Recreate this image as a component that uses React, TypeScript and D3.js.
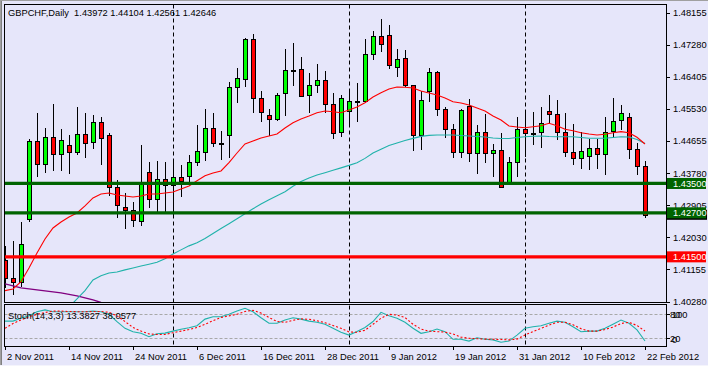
import React from 'react';
import * as d3 from 'd3';

// GBPCHF daily bars, 2 Nov 2011 .. 22 Feb 2012
const opens = [
  1.41415, 1.40924, 1.40815, 1.42532, 1.44658, 1.44031, 1.44767, 1.44304, 1.44549, 1.44358,
  1.44849, 1.44631, 1.45176, 1.44822, 1.43404, 1.42859, 1.42777, 1.42478, 1.43813, 1.43077,
  1.43622, 1.43459, 1.43677, 1.43704, 1.44086, 1.44358, 1.45012, 1.44603, 1.44822, 1.46130,
  1.46348, 1.47438, 1.45830, 1.45367, 1.45258, 1.45966, 1.46593, 1.46620, 1.45912, 1.46184,
  1.46321, 1.45667, 1.44903, 1.45476, 1.45748, 1.45748, 1.47029, 1.47520, 1.47547, 1.46675,
  1.46920, 1.46184, 1.44822, 1.46021, 1.46539, 1.45530, 1.44985, 1.44358, 1.45612, 1.44331,
  1.44903, 1.44331, 1.44413, 1.43541, 1.44086, 1.44985, 1.44876, 1.44903, 1.45476, 1.45394,
  1.44903, 1.44358, 1.44195, 1.44249, 1.44467, 1.44304, 1.44930, 1.45230, 1.45312, 1.44440,
  1.43972,
];
const highs = [
  1.41796, 1.41933, 1.42450, 1.44713, 1.45421, 1.45012, 1.45667, 1.44985, 1.44822, 1.45585,
  1.45421, 1.45367, 1.45312, 1.44876, 1.43595, 1.43241, 1.42996, 1.44549, 1.44086, 1.44113,
  1.44086, 1.44113, 1.44004, 1.44277, 1.45094, 1.45530, 1.45421, 1.44930, 1.46266, 1.46648,
  1.47465, 1.47574, 1.46021, 1.45530, 1.45966, 1.47166, 1.47329, 1.46948, 1.46511, 1.46757,
  1.46566, 1.45966, 1.45912, 1.46075, 1.46239, 1.47438, 1.47656, 1.47983, 1.47820, 1.47166,
  1.47138, 1.46190, 1.46021, 1.46648, 1.46566, 1.45585, 1.45121, 1.45530, 1.45803, 1.45094,
  1.45394, 1.44576, 1.44876, 1.44222, 1.45312, 1.45448, 1.45448, 1.45585, 1.45912, 1.45776,
  1.45421, 1.45121, 1.44903, 1.44713, 1.44713, 1.45312, 1.45830, 1.45639, 1.45421, 1.44603,
  1.44104,
];
const lows = [
  1.40652, 1.40461, 1.40679, 1.42450, 1.43677, 1.43786, 1.43840, 1.43840, 1.43759, 1.44277,
  1.44195, 1.44440, 1.44004, 1.43159, 1.42559, 1.42260, 1.42314, 1.42341, 1.42832, 1.42696,
  1.42696, 1.42587, 1.43132, 1.43541, 1.43977, 1.44113, 1.44495, 1.44140, 1.44195, 1.45694,
  1.46130, 1.45421, 1.45176, 1.44794, 1.45203, 1.45339, 1.46157, 1.45857, 1.45421, 1.45966,
  1.45421, 1.44713, 1.44767, 1.45040, 1.45176, 1.45694, 1.46866, 1.47084, 1.46620, 1.46402,
  1.46130, 1.44386, 1.44413, 1.45721, 1.45339, 1.44740, 1.44195, 1.44195, 1.44086, 1.43759,
  1.44058, 1.43677, 1.43377, 1.43486, 1.43677, 1.44222, 1.44549, 1.44467, 1.45149, 1.44685,
  1.44222, 1.44004, 1.43895, 1.43868, 1.43895, 1.43731, 1.44740, 1.44957, 1.44168, 1.43731,
  1.42561,
];
const closes = [
  1.40924, 1.40815, 1.41851, 1.44658, 1.44031, 1.44767, 1.44304, 1.44685, 1.44358, 1.44849,
  1.44603, 1.45176, 1.44740, 1.43404, 1.42914, 1.42777, 1.42505, 1.43513, 1.43077, 1.43622,
  1.43459, 1.43677, 1.43568, 1.44086, 1.44386, 1.45012, 1.44603, 1.44600, 1.46130, 1.46375,
  1.47438, 1.45830, 1.45448, 1.45258, 1.45912, 1.46593, 1.46590, 1.45885, 1.46184, 1.46321,
  1.45667, 1.44876, 1.45830, 1.45748, 1.45745, 1.47029, 1.47520, 1.47302, 1.46729, 1.46893,
  1.46184, 1.44822, 1.45776, 1.46539, 1.45530, 1.44985, 1.44358, 1.45503, 1.44331, 1.44903,
  1.44331, 1.44413, 1.43404, 1.44086, 1.44985, 1.44876, 1.44873, 1.45149, 1.45394, 1.44903,
  1.44358, 1.44195, 1.44386, 1.44467, 1.44304, 1.44903, 1.45203, 1.45421, 1.44440, 1.43977,
  1.42646,
];

// moving averages (red = fast, teal = slow, purple = long, only its tail is visible)
const maFast = [
  1.40578, 1.40624, 1.40823, 1.41197, 1.41606, 1.41987, 1.42287, 1.42450, 1.42587, 1.42696,
  1.42887, 1.43105, 1.43214, 1.43241, 1.43186, 1.43159, 1.43132, 1.43159, 1.43214, 1.43214,
  1.43241, 1.43268, 1.43350, 1.43432, 1.43576, 1.43712, 1.43786, 1.43840, 1.44067, 1.44331,
  1.44576, 1.44658, 1.44740, 1.44794, 1.44849, 1.45012, 1.45157, 1.45258, 1.45339, 1.45429,
  1.45476, 1.45457, 1.45429, 1.45503, 1.45585, 1.45702, 1.45857, 1.45975, 1.46075, 1.46130,
  1.46122, 1.46103, 1.46021, 1.45966, 1.45912, 1.45830, 1.45729, 1.45694, 1.45639, 1.45558,
  1.45476, 1.45339, 1.45230, 1.45067, 1.45040, 1.45021, 1.45048, 1.45075, 1.45140, 1.45075,
  1.44977, 1.44939, 1.44884, 1.44849, 1.44822, 1.44841, 1.44884, 1.44912, 1.44884, 1.44759,
  1.44576,
];
const maSlow = [
  null, null, null, null, null, null, null, null, 1.40134, 1.40352,
  1.40578, 1.40870, 1.40987, 1.41058, 1.41088, 1.41145, 1.41197, 1.41248, 1.41300, 1.41355,
  1.41450, 1.41578, 1.41690, 1.41799, 1.41884, 1.41998, 1.42134, 1.42271, 1.42404, 1.42540,
  1.42677, 1.42810, 1.42938, 1.43058, 1.43167, 1.43276, 1.43423, 1.43552, 1.43650, 1.43729,
  1.43794, 1.43860, 1.43925, 1.43993, 1.44067, 1.44184, 1.44331, 1.44435, 1.44535, 1.44606,
  1.44672, 1.44729, 1.44783, 1.44811, 1.44822, 1.44822, 1.44822, 1.44808, 1.44794, 1.44781,
  1.44767, 1.44740, 1.44726, 1.44726, 1.44753, 1.44775, 1.44789, 1.44794, 1.44781, 1.44775,
  1.44775, 1.44775, 1.44753, 1.44732, 1.44732, 1.44732, 1.44753, 1.44775, 1.44767, 1.44699,
  1.44590,
];
const maLong = [
  1.40761, 1.40706, 1.40652, 1.40624, 1.40597, 1.40570, 1.40543, 1.40515, 1.40474, 1.40434,
  1.40379, 1.40325, 1.40256,
];

// Stoch(14,3,3)
const stochK = [
  63, 63, 70, 76.5, 86.5, 91, 86.5, 86.5, 86.5, 86.5,
  86.5, 88, 86.5, 80, 61.5, 45, 36.5, 32.5, 24, 31.5,
  33, 38, 42.5, 46.5, 51.5, 68, 74, 74, 80, 88,
  95, 86.5, 71.5, 57.5, 57.5, 66, 71.5, 68, 63, 60,
  55, 45, 35, 28, 37, 47, 62, 85, 76.5, 70,
  60, 45, 32.5, 36.5, 43, 36.5, 17.5, 17.5, 13, 21.5,
  17.5, 16, 10, 13, 28, 45, 49, 51.5, 57.5, 63,
  60, 49, 36.5, 38, 38, 45, 55, 65.5, 57.5, 41,
  13.38,
];
const stochD = [
  45, 57, 66, 74, 80, 84.5, 88, 88, 87, 86.5,
  86.5, 87, 87, 85, 76, 62, 47, 38, 31, 29.5,
  29.5, 34, 38, 42, 47, 55, 64, 72, 76, 80,
  87, 90, 83, 72, 62, 60, 65, 68.5, 67.5, 64,
  59, 52, 45, 36, 35, 40, 55, 70, 80, 78,
  72, 55, 43, 38, 36.5, 35.5, 31, 23, 20, 19,
  18, 17.5, 17, 16, 18, 28, 37, 45, 53, 60,
  60, 54, 44, 38, 38, 42, 48, 57, 60, 52,
  38.06,
];
const stochLevels = [80, 20];

const priceTicks = [1.48155, 1.4728, 1.46405, 1.4553, 1.44655, 1.4378, 1.42905, 1.4203, 1.41155, 1.4028];
const dateLabels = [
  '2 Nov 2011', '14 Nov 2011', '24 Nov 2011', '6 Dec 2011', '16 Dec 2011', '28 Dec 2011',
  '9 Jan 2012', '19 Jan 2012', '31 Jan 2012', '10 Feb 2012', '22 Feb 2012',
];
const dateLabelBars = [0, 8, 16, 24, 32, 40, 48, 56, 64, 72, 80];
const monthStartBars = [21, 43, 65];

// horizontal support / resistance levels
const levelPrices = [1.435, 1.427, 1.415];
// short resistance marks drawn on the highs
const resistFrom = [42.25, 50, 64.4, 72.6];
const resistTo = [53.4, 56.75, 71, 79.4];
const resistPrice = [1.47738, 1.46558, 1.45934, 1.45549];

const W = 708;
const H = 367;
const FONT = "'Liberation Sans', Arial, sans-serif";

export default function App() {
  const x = d3.scaleLinear().domain([0, 80]).range([5, 645]);
  const y = d3.scaleLinear().domain([1.4028, 1.48155]).range([301.6, 12.7]);
  const ys = d3.scaleLinear().domain([0, 100]).range([346.3, 306.3]);

  const left = 4.5, right = 666.5, mainTop = 4.5, mainBottom = 302.5;
  const stTop = 304.5, stBottom = 346.5;

  const maLine = d3
    .line<number | null>()
    .defined((v) => v != null)
    .x((_, i) => x(i))
    .y((v) => y(v as number));
  const stLine = d3
    .line<number>()
    .x((_, i) => x(i))
    .y((v) => ys(v));

  const fmt = d3.format('.5f');
  const levelColors = ['#006400', '#006400', '#ff0000'];
  const last = closes.length - 1;

  return (
    <svg width={W} height={H} style={{ position: 'absolute', left: 0, top: 0, display: 'block' }} fontFamily={FONT}>
      <defs>
        <clipPath id="mainClip">
          <rect x={left + 0.5} y={mainTop + 0.5} width={right - left - 1} height={mainBottom - mainTop - 1} />
        </clipPath>
        <clipPath id="stClip">
          <rect x={left + 0.5} y={stTop + 0.5} width={right - left - 1} height={stBottom - stTop - 1} />
        </clipPath>
        <filter id="shadow" x="-20%" y="-300%" width="140%" height="800%">
          <feDropShadow dx="5" dy="5" stdDeviation="1.6" floodColor="#8a8a98" floodOpacity="0.85" />
        </filter>
      </defs>

      <rect width={W} height={H} fill="#e6e6fa" />
      <line x1={0} x2={W} y1={0.5} y2={0.5} stroke="#a0a0a0" />
      <line x1={0.5} x2={0.5} y1={0} y2={H} stroke="#a0a0a0" />
      <line x1={1.5} x2={1.5} y1={1} y2={H} stroke="#808080" />
      <line x1={0} x2={W} y1={365.5} y2={365.5} stroke="#f4f4fc" />
      <line x1={0} x2={W} y1={366.5} y2={366.5} stroke="#ffffff" />

      {/* month separators */}
      {monthStartBars.map((b) => (
        <line key={b} x1={Math.round(x(b)) + 0.5} x2={Math.round(x(b)) + 0.5} y1={mainTop} y2={stBottom}
          stroke="#000" strokeDasharray="4,3" />
      ))}

      <g clipPath="url(#mainClip)">
        {/* candles */}
        <g shapeRendering="crispEdges">
          {d3.range(opens.length).map((i) => {
            const o = opens[i];
            const c = closes[i];
            const cx = Math.round(x(i)) + 0.5;
            const top = Math.round(y(Math.max(o, c)));
            const bot = Math.round(y(Math.min(o, c)));
            return (
              <g key={i}>
                <line x1={cx} x2={cx} y1={y(highs[i])} y2={y(lows[i])} stroke="#000" />
                <rect x={cx - 2} y={top + 0.5} width={4} height={Math.max(bot - top, 1)}
                  fill={c > o ? '#00ff00' : '#ff0000'} stroke="#000" />
              </g>
            );
          })}
        </g>

        <path d={maLine(maLong) ?? ''} fill="none" stroke="#800080" strokeWidth={1.3} />
        <path d={maLine(maSlow) ?? ''} fill="none" stroke="#20b2aa" strokeWidth={1.1} />
        <path d={maLine(maFast) ?? ''} fill="none" stroke="#ff0000" strokeWidth={1.1} />

        {levelPrices.map((p, k) => (
          <line key={p} x1={left} x2={right} y1={y(p)} y2={y(p)} stroke={levelColors[k]} strokeWidth={3.2} />
        ))}

        {resistPrice.map((p, k) => (
          <line key={p} x1={x(resistFrom[k])} x2={x(resistTo[k])} y1={y(p)} y2={y(p)}
            stroke="#b40000" strokeWidth={3} filter="url(#shadow)" />
        ))}
      </g>

      {/* stochastic */}
      <g clipPath="url(#stClip)">
        {stochLevels.map((v) => (
          <line key={v} x1={left} x2={right} y1={Math.round(ys(v)) + 0.5} y2={Math.round(ys(v)) + 0.5}
            stroke="#a8a8a8" strokeDasharray="3,2" />
        ))}
        <path d={stLine(stochK) ?? ''} fill="none" stroke="#20b2aa" strokeWidth={1.1} />
        <path d={stLine(stochD) ?? ''} fill="none" stroke="#ff0000" strokeWidth={1.1} strokeDasharray="2,2" />
      </g>

      {/* frames */}
      <rect x={left} y={mainTop} width={right - left} height={mainBottom - mainTop} fill="none" stroke="#000" />
      <rect x={left} y={stTop} width={right - left} height={stBottom - stTop} fill="none" stroke="#000" />

      {/* price axis */}
      {priceTicks.map((p) => (
        <g key={p}>
          <line x1={right} x2={670} y1={Math.round(y(p)) + 0.5} y2={Math.round(y(p)) + 0.5} stroke="#000" />
          <text x={673} y={y(p) + 3.3} fontSize={9.3} fill="#000">{fmt(p)}</text>
        </g>
      ))}

      {/* current price tag (mostly hidden behind the 1.42700 tag) */}
      <rect x={667} y={y(closes[last]) - 5} width={40} height={10} fill="#000" />

      {levelPrices.map((p, k) => (
        <g key={p}>
          <rect x={667} y={y(p) - 5.5} width={39} height={11} fill={levelColors[k]} />
          <text x={673} y={y(p) + 3.3} fontSize={9.3} fill="#fff">{fmt(p)}</text>
        </g>
      ))}

      {/* stoch axis */}
      {stochLevels.map((v) => (
        <line key={v} x1={right} x2={670} y1={Math.round(ys(v)) + 0.5} y2={Math.round(ys(v)) + 0.5} stroke="#000" />
      ))}
      <text x={670} y={ys(80) + 3.3} fontSize={9.3}>80</text>
      <text x={672} y={ys(80) + 3.3} fontSize={9.3}>100</text>
      <text x={670} y={ys(20) + 3.3} fontSize={9.3}>20</text>
      <text x={672} y={ys(20) + 4.3} fontSize={9.3}>0</text>

      {/* time axis */}
      {dateLabels.map((d, k) => {
        const tx = Math.round(x(dateLabelBars[k])) + 0.5;
        return (
          <g key={d}>
            <line x1={tx} x2={tx} y1={stBottom} y2={350} stroke="#000" />
            <text x={tx + 1.5} y={360} fontSize={9.3}>{d}</text>
          </g>
        );
      })}

      <text x={8} y={16} fontSize={9.3}>
        {'GBPCHF,Daily\u00a0\u00a01.43972 1.44104 1.42561 1.42646'}
      </text>
      <text x={8} y={319.3} fontSize={9.3}>
        Stoch(14,3,3) 13.3827 38.0577
      </text>
    </svg>
  );
}
